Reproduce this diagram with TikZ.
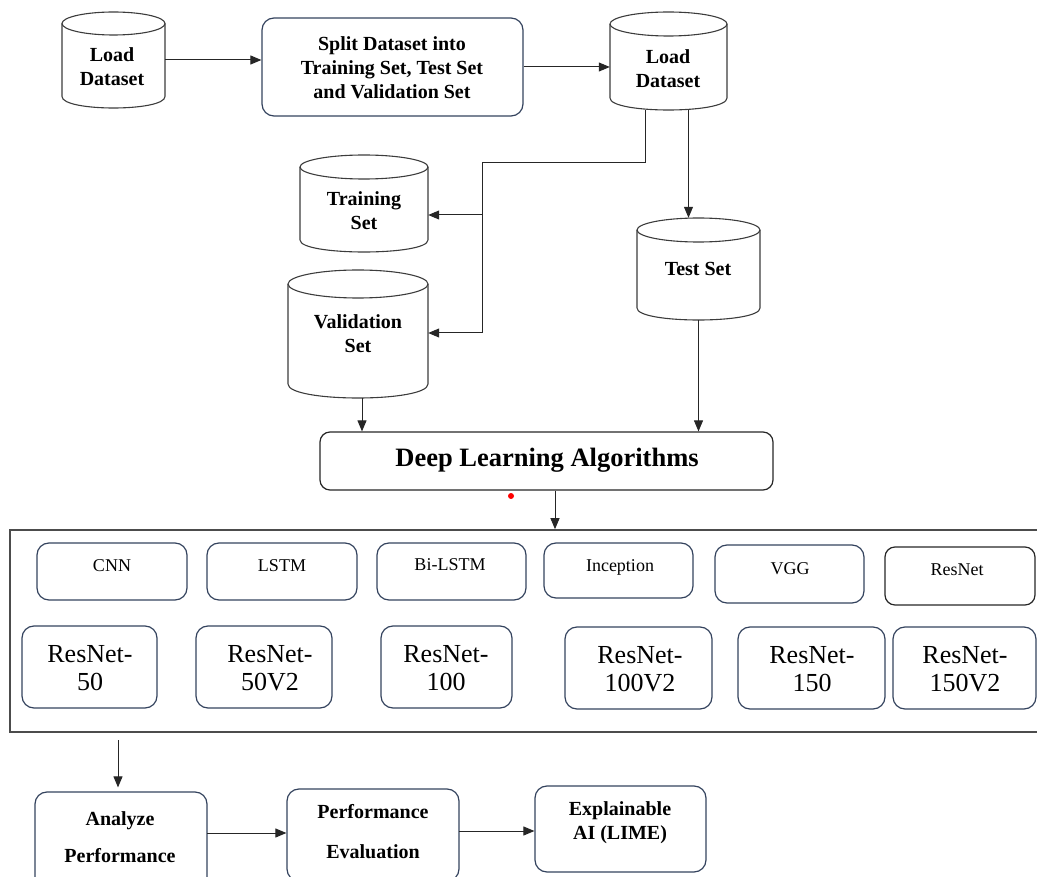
\documentclass[tikz,border=0pt]{standalone}
\usepackage{fontspec}
\setmainfont{Liberation Serif}
\usetikzlibrary{arrows.meta,fit,calc}
\definecolor{boxblue}{HTML}{34435E}
\definecolor{cylgray}{HTML}{3C3C3C}
\tikzset{
  ln/.style={line width=1pt, draw=black!85},
  arr/.style={ln, -{Triangle[length=11pt,width=9pt]}},
  cyl/.style={line width=1.1pt, draw=cylgray},
  rbox/.style={draw=boxblue, line width=1.2pt, rounded corners=12pt, inner sep=0pt},
  bbox/.style={draw=black!85, line width=1.2pt, rounded corners=10pt, inner sep=0pt},
  lbl/.style={font=\fontsize{20}{24}\selectfont\bfseries, align=center, inner sep=0pt},
  big/.style={font=\fontsize{26.5}{30}\selectfont\bfseries, inner sep=0pt},
  sml/.style={font=\fontsize{18}{22}\selectfont, inner sep=0pt},
  res/.style={font=\fontsize{26}{28}\selectfont, align=center, inner sep=0pt},
  framebox/.style={draw=black!70, line width=1.6pt, inner sep=0pt},
}
% cylinder: name, x1, y1, x2, y2, ry
\newcommand\dbcyl[6]{%
  \draw[cyl] ({(#2+#4)/2},{#3+#6}) ellipse [x radius={(#4-#2)/2}, y radius=#6];
  \draw[cyl] (#2,{#3+#6}) -- (#2,{#5-#6}) .. controls (#2,{#5+#6/3}) and (#4,{#5+#6/3}) .. (#4,{#5-#6}) -- (#4,{#3+#6});
  \coordinate (#1-a) at (#2,#3);
  \coordinate (#1-b) at (#4,#5);
  \node[fit=(#1-a)(#1-b), inner sep=0pt] (#1) {};
}
% rounded box: style, name, x1, y1, x2, y2, text
\newcommand\rbx[7]{%
  \node[#1, minimum width={(#5-#3)*1pt}, minimum height={(#6-#4)*1pt}] (#2) at ({(#3+#5)/2},{(#4+#6)/2}) {#7};
}
\begin{document}
\begin{tikzpicture}[x=1pt,y=-1pt]
\useasboundingbox (0,0) rectangle (1037,877);

% top row
\dbcyl{load1}{62}{12}{165}{108}{11.5}
\node[lbl] (load1-t) at (112,67) {Load\\Dataset};
\rbx{rbox}{split}{262}{18}{523}{116}{}
\node[lbl] (split-t) at (392,68) {Split Dataset into\\Training Set, Test Set\\and Validation Set};
\dbcyl{load2}{610}{12}{727}{110}{12}
\node[lbl] (load2-t) at (668,69) {Load\\Dataset};

% split sets
\dbcyl{train}{300}{155}{428}{252}{12}
\node[lbl] (train-t) at (364,211) {Training\\Set};
\dbcyl{val}{288}{270}{428}{398}{14}
\node[lbl] (val-t) at (358,334) {Validation\\Set};
\dbcyl{test}{637}{218}{760}{320}{12}
\node[lbl] (test-t) at (698,269) {Test Set};

% deep learning
\rbx{bbox}{dl}{320}{432}{773}{490}{}
\node[big] (dl-t) at (547,460) {Deep Learning Algorithms};
\node[circle, fill=red, inner sep=0pt, minimum size=6pt] (dot) at (511,496) {};

% frame of models
\rbx{framebox}{frame}{10}{530}{1060}{732}{}
\rbx{rbox}{cnn}{37}{543}{187}{600}{}
\node[sml] (cnn-t) at (112,566) {CNN};
\rbx{rbox}{lstm}{207}{543}{357}{600}{}
\node[sml] (lstm-t) at (282,566) {LSTM};
\rbx{rbox}{bilstm}{377}{543}{526}{600}{}
\node[sml] (bilstm-t) at (450,565) {Bi-LSTM};
\rbx{rbox}{incep}{544}{543}{693}{598}{}
\node[sml] (incep-t) at (620,567) {Inception};
\rbx{rbox}{vgg}{715}{545}{864}{603}{}
\node[sml] (vgg-t) at (790,569) {VGG};
\rbx{bbox}{resnet}{885}{547}{1035}{605}{}
\node[sml] (resnet-t) at (957,570) {ResNet};

\rbx{rbox}{r50}{22}{626}{157}{708}{}
\node[res] (r50-t) at (90,668) {ResNet-\\50};
\rbx{rbox}{r50v2}{196}{626}{332}{708}{}
\node[res] (r50v2-t) at (270,668) {ResNet-\\50V2};
\rbx{rbox}{r100}{381}{626}{512}{708}{}
\node[res] (r100-t) at (446,668) {ResNet-\\100};
\rbx{rbox}{r100v2}{565}{627}{712}{709}{}
\node[res] (r100v2-t) at (640,669) {ResNet-\\100V2};
\rbx{rbox}{r150}{738}{627}{885}{709}{}
\node[res] (r150-t) at (812,669) {ResNet-\\150};
\rbx{rbox}{r150v2}{893}{627}{1036}{709}{}
\node[res] (r150v2-t) at (965,669) {ResNet-\\150V2};

% bottom row
\rbx{rbox}{analyze}{35}{792}{207}{892}{}
\node[lbl] (analyze-t) at (120,837) {Analyze\\[13pt]Performance};
\rbx{rbox}{perfeval}{287}{789}{459}{881}{}
\node[lbl] (perfeval-t) at (373,832) {Performance\\[16pt]Evaluation};
\rbx{rbox}{explain}{535}{786}{706}{872}{}
\node[lbl] (explain-t) at (620,823) {Explainable\\AI (LIME)};

% connectors
\draw[arr] (load1.east) -- (load1.east -| split.west);
\draw[arr] (split.east) -- (split.east -| load2.west);
\coordinate (b1) at (482,163);
\coordinate (j1) at (482,215);
\coordinate (j2) at (482,333);
\draw[ln] ([xshift=-23pt]load2.south) |- (b1) -- (j2);
\draw[arr] (j1) -- (j1 -| train.east);
\draw[arr] (j2) -- (j2 -| val.east);
\draw[arr] ([xshift=20pt]load2.south) -- ([xshift=20pt]load2.south |- test.north);
\draw[arr] ([xshift=4pt]val.south) -- ([xshift=4pt]val.south |- dl.north);
\draw[arr] (test.south) -- (test.south |- dl.north);
\draw[arr] ([xshift=8.5pt]dl.south) -- ([xshift=8.5pt]dl.south |- frame.north);
\coordinate (fb) at (118,740);
\draw[arr] (fb) -- ([yshift=4pt]fb |- analyze.north);
\coordinate (a1) at (207,833);
\draw[arr] (a1) -- (a1 -| perfeval.west);
\coordinate (a2) at (459,831);
\draw[arr] (a2) -- (a2 -| explain.west);
\end{tikzpicture}
\end{document}
